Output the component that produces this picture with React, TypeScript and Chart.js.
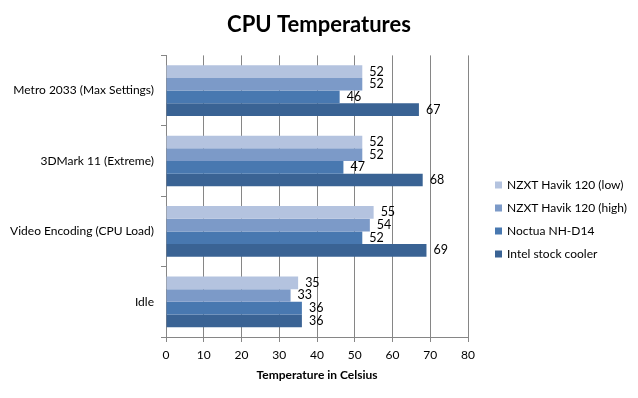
import React, { useEffect, useRef } from 'react';
import { Chart, registerables } from 'chart.js';

Chart.register(...registerables);

const categories = [
  'Metro 2033 (Max Settings)',
  '3DMark 11 (Extreme)',
  'Video Encoding (CPU Load)',
  'Idle',
];
const seriesNames = [
  'NZXT Havik 120 (low)',
  'NZXT Havik 120 (high)',
  'Noctua NH-D14',
  'Intel stock cooler',
];
const havikLow = [52, 52, 55, 35];
const havikHigh = [52, 52, 54, 33];
const noctua = [46, 47, 52, 36];
const intelStock = [67, 68, 69, 36];
const xMin = 0;
const xMax = 80;
const xStep = 10;

const seriesColors = ['#B4C3DF', '#7C9AC8', '#4878B0', '#3A6394'];
const FONT = 'Lato, "Open Sans", sans-serif';

const valueLabels = {
  id: 'valueLabels',
  afterDatasetsDraw(chart: any) {
    const ctx = chart.ctx;
    ctx.save();
    ctx.font = `12.5px ${FONT}`;
    ctx.fillStyle = '#000';
    ctx.textAlign = 'left';
    ctx.textBaseline = 'middle';
    chart.data.datasets.forEach((ds: any, i: number) => {
      const meta = chart.getDatasetMeta(i);
      meta.data.forEach((el: any, j: number) => {
        ctx.fillText(String(ds.data[j]), el.x + 7, el.y);
      });
    });
    ctx.restore();
  },
};

const sideLegend = {
  id: 'sideLegend',
  afterDraw(chart: any) {
    const ctx = chart.ctx;
    ctx.save();
    ctx.font = `12px ${FONT}`;
    ctx.textAlign = 'left';
    ctx.textBaseline = 'middle';
    const x0 = 495;
    const y0 = 185;
    const gap = 23;
    chart.data.datasets.forEach((ds: any, i: number) => {
      const y = y0 + i * gap;
      ctx.fillStyle = ds.backgroundColor;
      ctx.fillRect(x0, y - 3.5, 7, 7);
      ctx.fillStyle = '#000';
      ctx.fillText(ds.label, x0 + 12, y);
    });
    ctx.restore();
  },
};

export default function App() {
  const ref = useRef<HTMLCanvasElement>(null);
  useEffect(() => {
    if (!ref.current) return;
    const seriesData = [havikLow, havikHigh, noctua, intelStock];
    const chart = new Chart(ref.current, {
      type: 'bar',
      data: {
        labels: categories,
        datasets: seriesNames.map((name, i) => ({
          label: name,
          data: seriesData[i],
          backgroundColor: seriesColors[i],
          borderWidth: 0,
          categoryPercentage: 0.72,
          barPercentage: 1,
        })),
      },
      options: {
        indexAxis: 'y',
        responsive: false,
        animation: false,
        layout: { padding: 0 },
        plugins: {
          legend: { display: false },
          tooltip: { enabled: false },
          title: {
            display: true,
            text: 'CPU Temperatures',
            color: '#000',
            font: { family: FONT, size: 22, weight: 'bold' },
            padding: { top: 12, bottom: 17 },
          },
        },
        scales: {
          x: {
            min: xMin,
            max: xMax,
            ticks: {
              stepSize: xStep,
              color: '#000',
              padding: 6,
              font: { family: FONT, size: 12 },
            },
            grid: { color: '#868686', tickLength: 5, drawTicks: true },
            border: { color: '#868686' },
            title: {
              display: true,
              text: 'Temperature in Celsius',
              color: '#000',
              font: { family: FONT, size: 12, weight: 'bold' },
              padding: { top: 0, bottom: 16 },
            },
            afterFit(scale: any) {
              scale.height = 61;
            },
          },
          y: {
            ticks: {
              color: '#000',
              padding: 7,
              font: { family: FONT, size: 12 },
            },
            grid: {
              color: '#868686',
              drawOnChartArea: false,
              tickLength: 5,
              offset: true,
            },
            border: { color: '#868686' },
            afterFit(scale: any) {
              scale.width = 166;
            },
          },
          legendSpace: {
            type: 'category',
            axis: 'y',
            position: 'right',
            display: true,
            grid: { display: false },
            border: { display: false },
            ticks: { display: false },
            afterFit(scale: any) {
              scale.width = 170;
            },
          },
        },
      },
      plugins: [valueLabels, sideLegend],
    });
    return () => chart.destroy();
  }, []);
  return (
    <div style={{ position: 'fixed', left: 0, top: 0, width: 638, height: 398, background: '#fff' }}>
      <canvas ref={ref} width={638} height={398} />
    </div>
  );
}
